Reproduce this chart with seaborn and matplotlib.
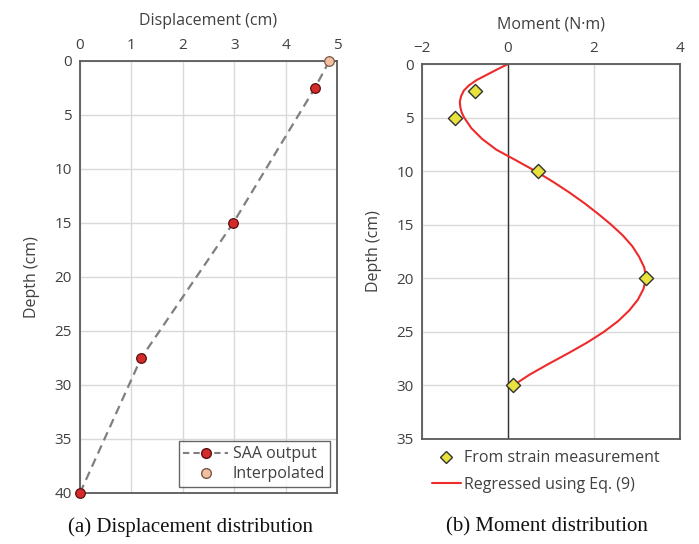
import matplotlib
matplotlib.use("Agg")
import matplotlib.pyplot as plt
import seaborn as sns
from matplotlib.lines import Line2D

sns.set_theme(style="white")
plt.rcParams['font.family'] = ['Open Sans', 'DejaVu Sans']

# ---- data: (a) displacement ----
saa_disp = [4.57, 2.98, 1.19, 0.0]
saa_depth = [2.5, 15, 27.5, 40]
interp_disp = [4.85]
interp_depth = [0]
line_disp = [4.85, 4.57, 2.98, 1.19, 0.0]
line_depth = [0, 2.5, 15, 27.5, 40]

# ---- data: (b) moment ----
meas_moment = [-0.77, -1.23, 0.69, 3.20, 0.11]
meas_depth = [2.5, 5, 10, 20, 30]
reg_depth = [0, 0.5, 1, 1.5, 2, 2.5, 3, 3.5, 4, 4.5, 5, 6, 7, 8, 9, 10, 11, 12, 13, 14, 15,
             16, 17, 18, 19, 20, 21, 22, 23, 24, 25, 26, 27, 28, 29, 30]
reg_moment = [0.0, -0.25, -0.49, -0.73, -0.91, -1.03, -1.09, -1.12, -1.11, -1.08, -1.02,
              -0.85, -0.60, -0.27, 0.19, 0.64, 1.05, 1.43, 1.78, 2.10, 2.40,
              2.67, 2.89, 3.05, 3.17, 3.21, 3.15, 3.02, 2.82, 2.56, 2.23,
              1.84, 1.40, 0.94, 0.50, 0.12]

fig = plt.figure(figsize=(6.99, 5.44), dpi=100)
axA = fig.add_axes([80/699, 51/544, 257/699, 432/544])
axB = fig.add_axes([422/699, 105/544, 258/699, 375/544])

spine_col = '#595959'
grid_col = '#d9d9d9'
txt_col = '#404040'

def style(ax):
    for s in ax.spines.values():
        s.set_color(spine_col)
        s.set_linewidth(1.3)
    ax.grid(True, color=grid_col, linewidth=1.0)
    ax.set_axisbelow(True)
    ax.xaxis.tick_top()
    ax.xaxis.set_label_position('top')
    ax.tick_params(axis='both', length=0, labelsize=11, labelcolor=txt_col, pad=6)

# ---- panel (a) ----
sns.lineplot(x=line_disp, y=line_depth, sort=False, estimator=None, ax=axA, color='#7f7f7f',
             linestyle=(0, (4, 2.5)), linewidth=1.6, legend=False)
sns.scatterplot(x=saa_disp, y=saa_depth, ax=axA, marker='o', s=48,
                color='#d42a2a', edgecolor='#5a1010', linewidth=0.9, zorder=5)
sns.scatterplot(x=interp_disp, y=interp_depth, ax=axA, marker='o', s=48,
                color='#f2bfa0', edgecolor='#7a5a4a', linewidth=0.9, zorder=5)
axA.set_xlim(0, 5)
axA.set_ylim(40, 0)
axA.set_xticks([0, 1, 2, 3, 4, 5])
axA.set_yticks(range(0, 41, 5))
style(axA)
axA.set_xlabel('Displacement (cm)', fontsize=11.5, color=txt_col, labelpad=9)
axA.set_ylabel('Depth (cm)', fontsize=11.5, color=txt_col, labelpad=10)
for c in axA.collections:
    c.set_clip_on(False)

hA = [Line2D([], [], color='#7f7f7f', linestyle=(0, (3, 2)), linewidth=1.5,
             marker='o', markersize=7, markerfacecolor='#d42a2a', markeredgecolor='#5a1010'),
      Line2D([], [], linestyle='none', marker='o', markersize=7,
             markerfacecolor='#f2bfa0', markeredgecolor='#7a5a4a')]
legA = axA.legend(hA, ['SAA output', 'Interpolated'], loc='lower right',
                  bbox_to_anchor=(0.973, 0.014), borderaxespad=0, fontsize=11.5,
                  frameon=True, fancybox=False,
                  handlelength=2.8, handletextpad=0.3, borderpad=0.3, labelspacing=0.25)
legA.get_frame().set_edgecolor('#404040')
legA.get_frame().set_linewidth(1.0)
for t in legA.get_texts():
    t.set_color(txt_col)

# ---- panel (b) ----
sns.lineplot(x=reg_moment, y=reg_depth, sort=False, estimator=None, ax=axB, color='#ee2a2a',
             linewidth=1.5, legend=False)
sns.scatterplot(x=meas_moment, y=meas_depth, ax=axB, marker='D', s=52,
                color='#e8e23c', edgecolor='#333333', linewidth=1.0, zorder=5)
axB.set_xlim(-2, 4)
axB.set_ylim(35, 0)
axB.set_xticks([-2, 0, 2, 4])
axB.set_yticks(range(0, 36, 5))
style(axB)
axB.axvline(0, color='#333333', linewidth=1.0, zorder=1)
axB.set_xlabel('Moment (N·m)', fontsize=11.5, color=txt_col, labelpad=9)
axB.set_ylabel('Depth (cm)', fontsize=11.5, color=txt_col, labelpad=10)

hB = [Line2D([], [], linestyle='none', marker='D', markersize=6.5,
             markerfacecolor='#e8e23c', markeredgecolor='#333333'),
      Line2D([], [], color='#ee2a2a', linewidth=1.5)]
legB = axB.legend(hB, ['From strain measurement', 'Regressed using Eq. (9)'],
                  loc='upper center', bbox_to_anchor=(0.48, -0.013), borderaxespad=0,
                  fontsize=11.5, frameon=False, handlelength=1.8, handletextpad=0.2,
                  labelspacing=0.65)
for t in legB.get_texts():
    t.set_color(txt_col)

fig.text(191/699, 1 - 527/544, '(a) Displacement distribution', ha='center', va='center',
         fontsize=15, family='Liberation Serif', color='#111111')
fig.text(547/699, 1 - 527/544, '(b) Moment distribution', ha='center', va='center',
         fontsize=15, family='Liberation Serif', color='#111111')

fig.savefig('out.png', dpi=100, facecolor='white')
